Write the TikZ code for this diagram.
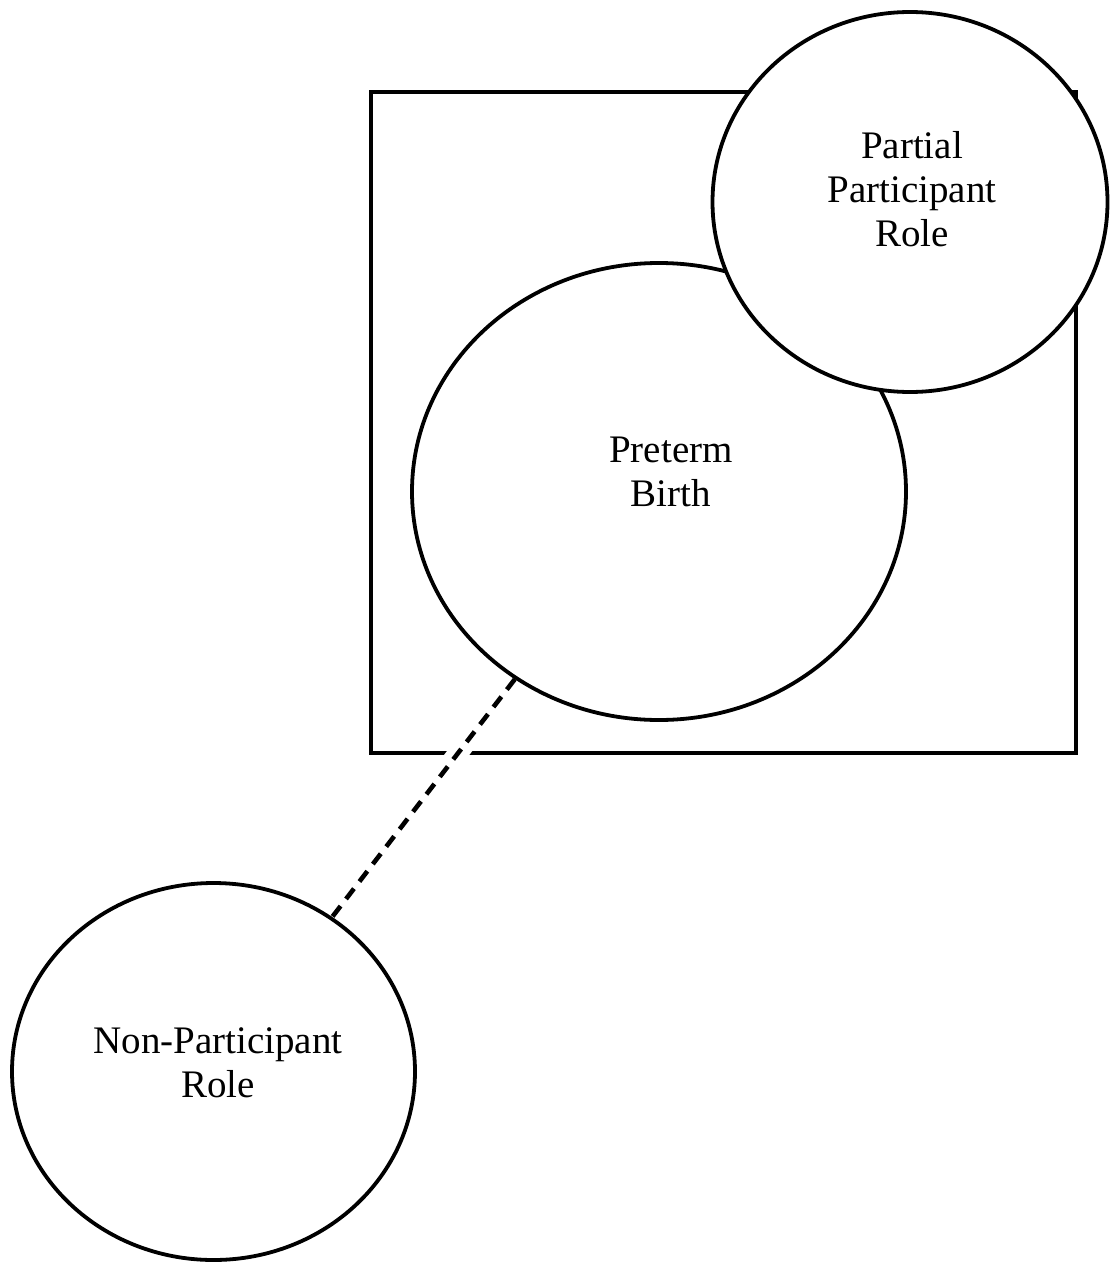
\documentclass[tikz,border=0pt]{standalone}
\usepackage{fontspec}
\setmainfont{Liberation Serif}
\usetikzlibrary{shapes.geometric}
\tikzset{
  stroke/.style={line width=3.8pt, black},
  bubble/.style={ellipse, draw, stroke, fill=white, inner sep=0pt},
  lbl/.style={align=center, inner sep=0pt, font=\fontsize{39}{44}\selectfont},
  halo/.style={white, line width=20pt, shorten <=30pt, shorten >=30pt},
  link/.style={line width=4.6pt, dash pattern=on 13pt off 9pt}
}
\begin{document}
\begin{tikzpicture}[x=1pt,y=-1pt]
\useasboundingbox (0,0) rectangle (1114,1265);
\draw[stroke] (371,92) rectangle (1076,753);
\node[bubble, minimum width=494pt, minimum height=457pt] (pb) at (659,491.5) {};
\node[bubble, minimum width=395pt, minimum height=380pt] (pp) at (910,202) {};
\node[bubble, minimum width=403pt, minimum height=377pt] (np) at (213.5,1071.5) {};
\node[lbl] (pbt) at (671,472) {Preterm\\Birth};
\node[lbl] (ppt) at (912,189) {Partial\\Participant\\Role};
\node[lbl] (npt) at (218,1063) {Non-Participant\\Role};
\draw[halo] (pb) -- (np);
\draw[link] (pb) -- (np);
\end{tikzpicture}
\end{document}
